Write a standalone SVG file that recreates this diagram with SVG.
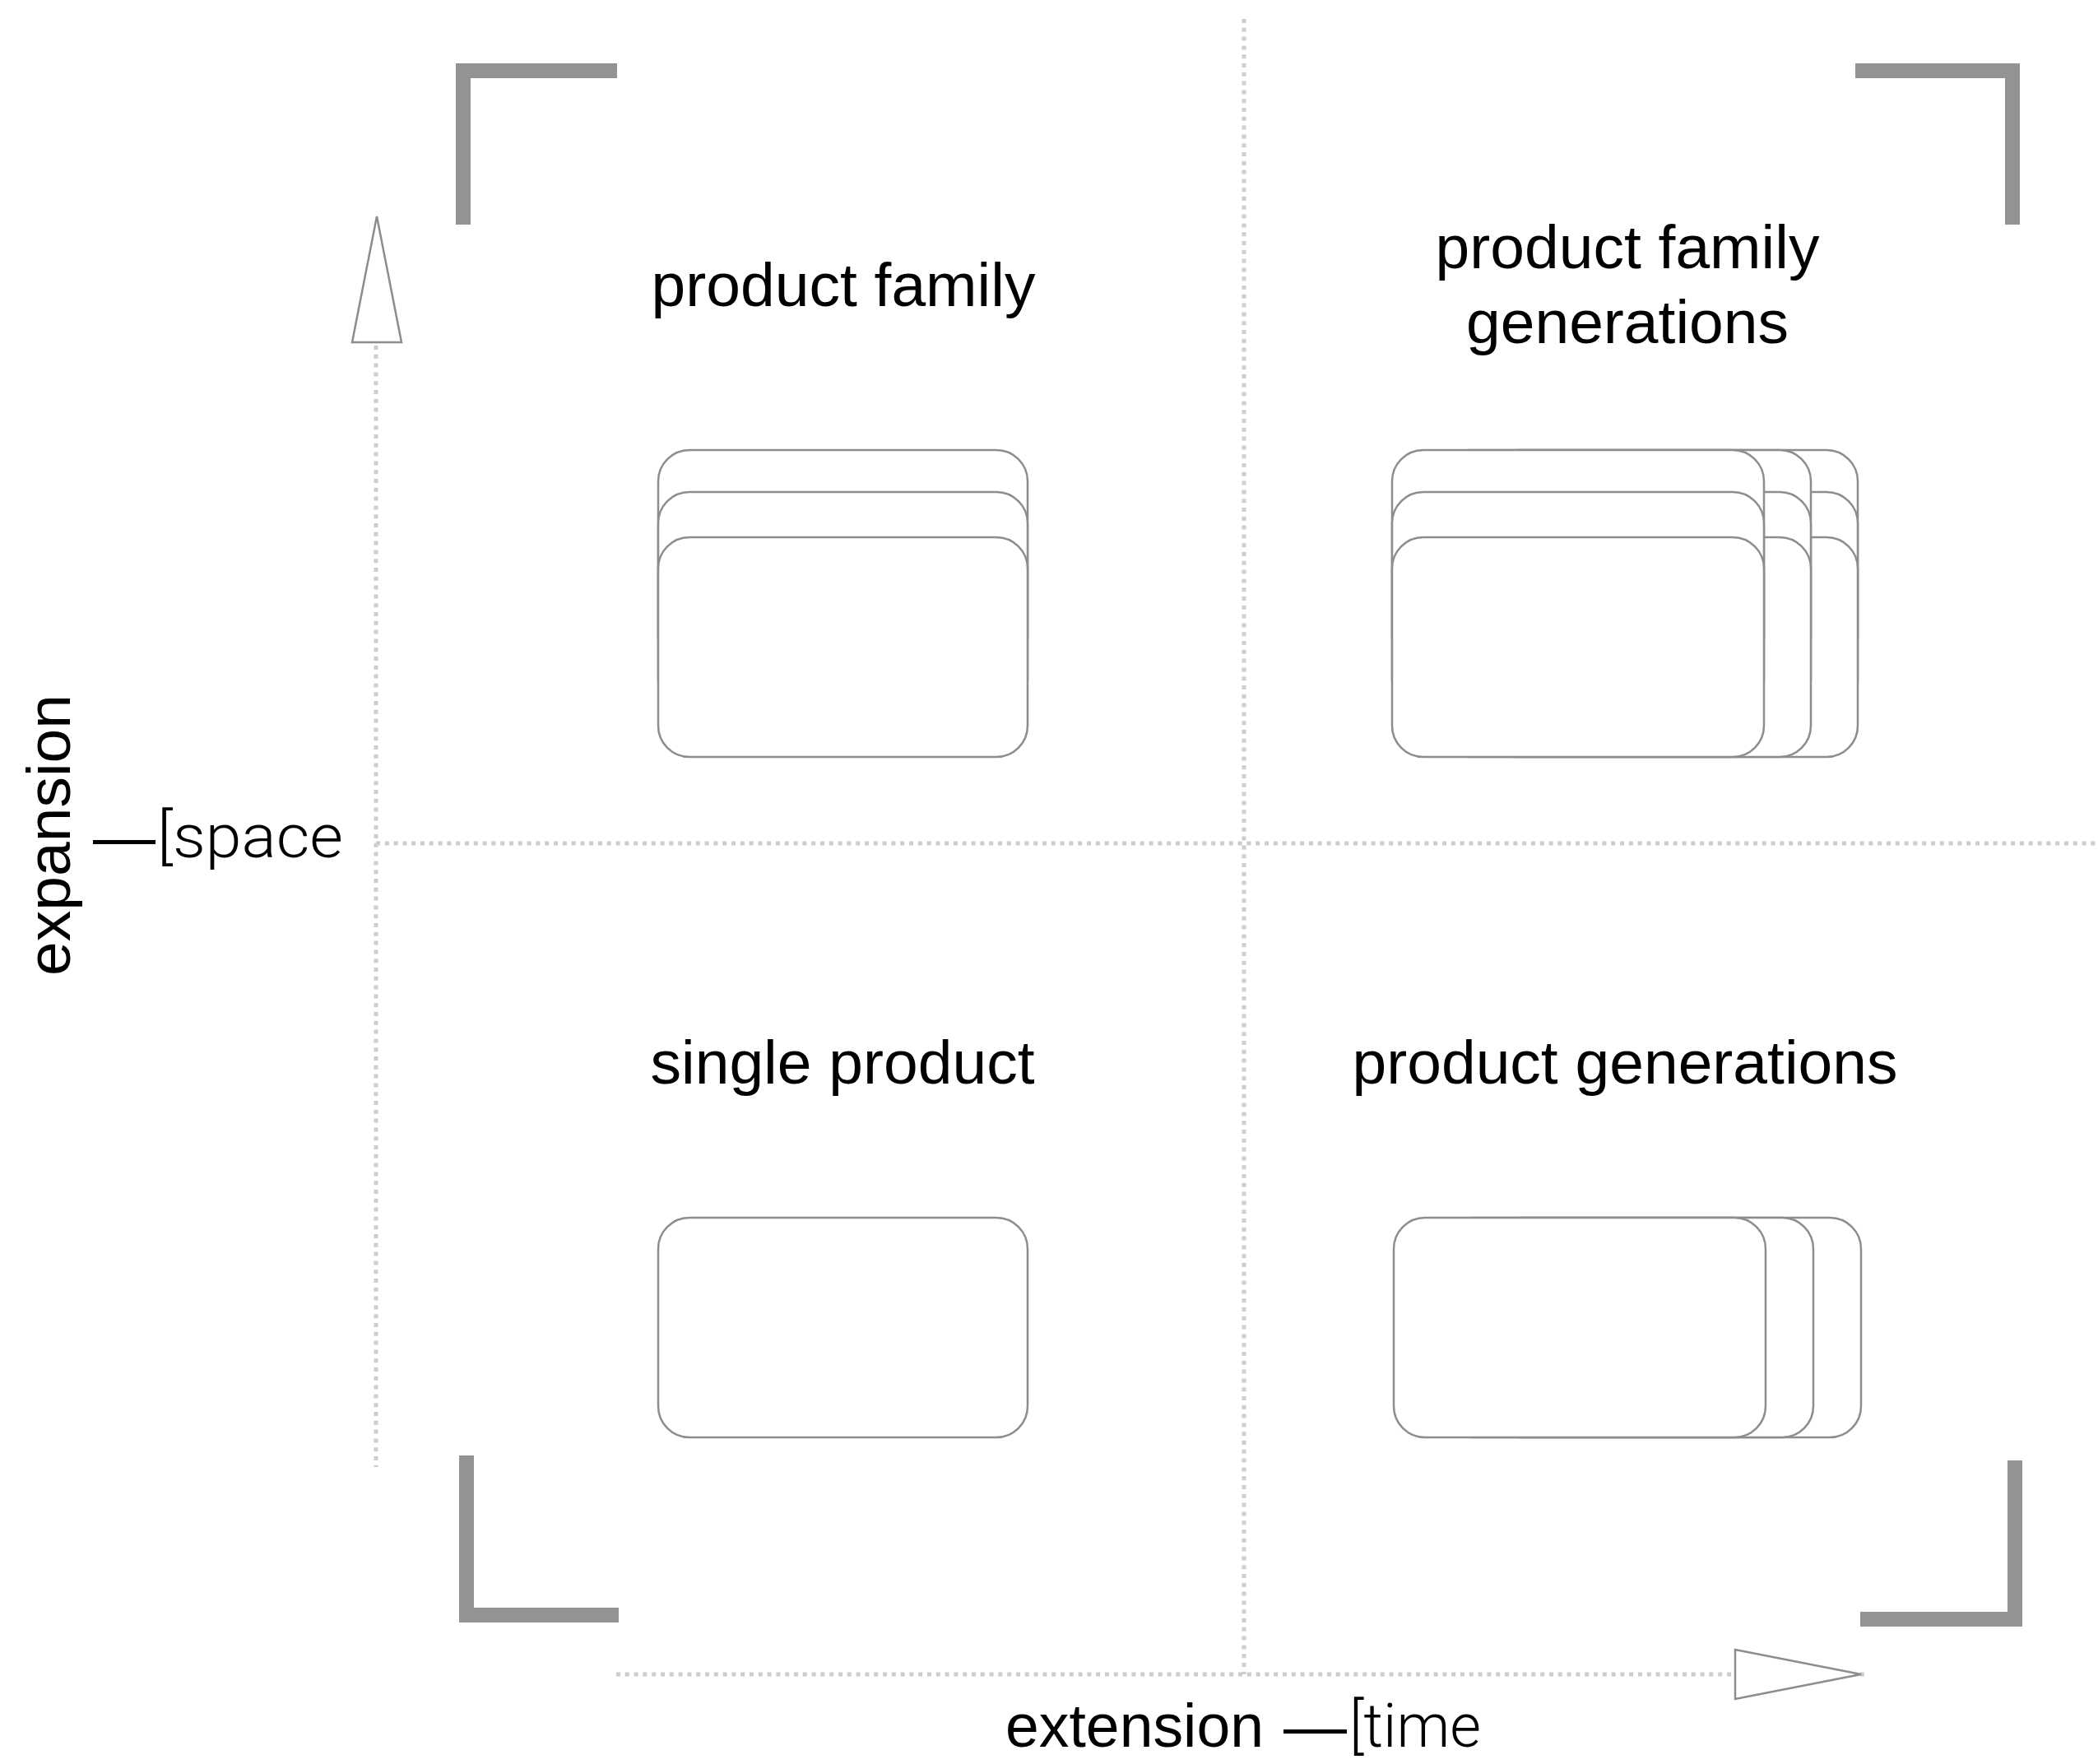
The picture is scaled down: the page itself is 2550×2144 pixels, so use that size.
<svg xmlns="http://www.w3.org/2000/svg" width="2550" height="2144" viewBox="0 0 2550 2144">
<style>
.lbl{font-family:"Liberation Sans",Arial,Helvetica,sans-serif;font-size:75px;fill:#000;}
.light{font-family:Roboto,"Liberation Sans",Arial,sans-serif;font-weight:300;font-size:75px;fill:#000;}
.dash{font-family:"Liberation Sans",Arial,sans-serif;font-size:75px;fill:#000;}
.card{fill:#fff;stroke:#8a8d91;stroke-width:2.5;}
.dot{fill:none;stroke:#cdcdcd;stroke-width:5;stroke-dasharray:5 5.8;}
.brk{fill:none;stroke:#939393;stroke-width:18;stroke-linecap:butt;stroke-linejoin:miter;}
.head{fill:#fff;stroke:#8a8d91;stroke-width:2.5;stroke-linejoin:miter;}
</style>
<defs>
<rect id="c1" class="card" width="449" height="267" rx="38" ry="38"/>
<rect id="c2" class="card" width="452" height="267" rx="38" ry="38"/>
</defs>
<rect width="2550" height="2144" fill="#fff"/>

<g id="connectors">
<line class="dot" x1="1512" y1="23" x2="1512" y2="2035"/>
<line class="dot" x1="457" y1="1025" x2="2550" y2="1025"/>
<line class="dot" x1="457" y1="420" x2="457" y2="1783"/>
<line class="dot" x1="749" y1="2035" x2="2268" y2="2035"/>
<polygon class="head" points="458,263 488,416 428,416"/>
<polygon class="head" points="2262,2035 2109,2065 2109,2005"/>
</g>

<g id="brackets">
<path class="brk" d="M563,273 V86 H750"/>
<path class="brk" d="M2255,86 H2446 V273"/>
<path class="brk" d="M567,1769 V1963 H752"/>
<path class="brk" d="M2261,1968 H2449 V1775"/>
</g>

<g id="product-family">
<text class="lbl" x="1025" y="372" text-anchor="middle">product family</text>
<use href="#c1" x="800" y="547"/>
<use href="#c1" x="800" y="598"/>
<use href="#c1" x="800" y="653"/>
</g>

<g id="product-family-generations">
<text class="lbl" x="1978" y="326" text-anchor="middle">product family</text>
<text class="lbl" x="1978" y="417" text-anchor="middle">generations</text>
<use href="#c2" x="1806" y="547"/>
<use href="#c2" x="1806" y="598"/>
<use href="#c2" x="1806" y="653"/>
<use href="#c2" x="1749" y="547"/>
<use href="#c2" x="1749" y="598"/>
<use href="#c2" x="1749" y="653"/>
<use href="#c2" x="1692" y="547"/>
<use href="#c2" x="1692" y="598"/>
<use href="#c2" x="1692" y="653"/>
</g>

<g id="single-product">
<text class="lbl" x="1024" y="1317" text-anchor="middle">single product</text>
<use href="#c1" x="800" y="1480"/>
</g>

<g id="product-generations">
<text class="lbl" x="1975" y="1317" text-anchor="middle">product generations</text>
<use href="#c2" x="1810" y="1480"/>
<use href="#c2" x="1752" y="1480"/>
<use href="#c2" x="1694" y="1480"/>
</g>

<g id="axis-labels">
<text class="lbl" x="0" y="0" text-anchor="middle" transform="translate(85,1015) rotate(-90)">expansion</text>
<text class="dash" x="113" y="1042" textLength="76" lengthAdjust="spacingAndGlyphs">—</text>
<text class="light" x="191" y="1042" textLength="226" lengthAdjust="spacingAndGlyphs">[space</text>
<text class="lbl" x="1222" y="2123" textLength="314" lengthAdjust="spacingAndGlyphs">extension</text>
<text class="dash" x="1560" y="2123" textLength="77" lengthAdjust="spacingAndGlyphs">—</text>
<text class="light" x="1640" y="2123" textLength="160" lengthAdjust="spacingAndGlyphs">[time</text>
</g>
</svg>
